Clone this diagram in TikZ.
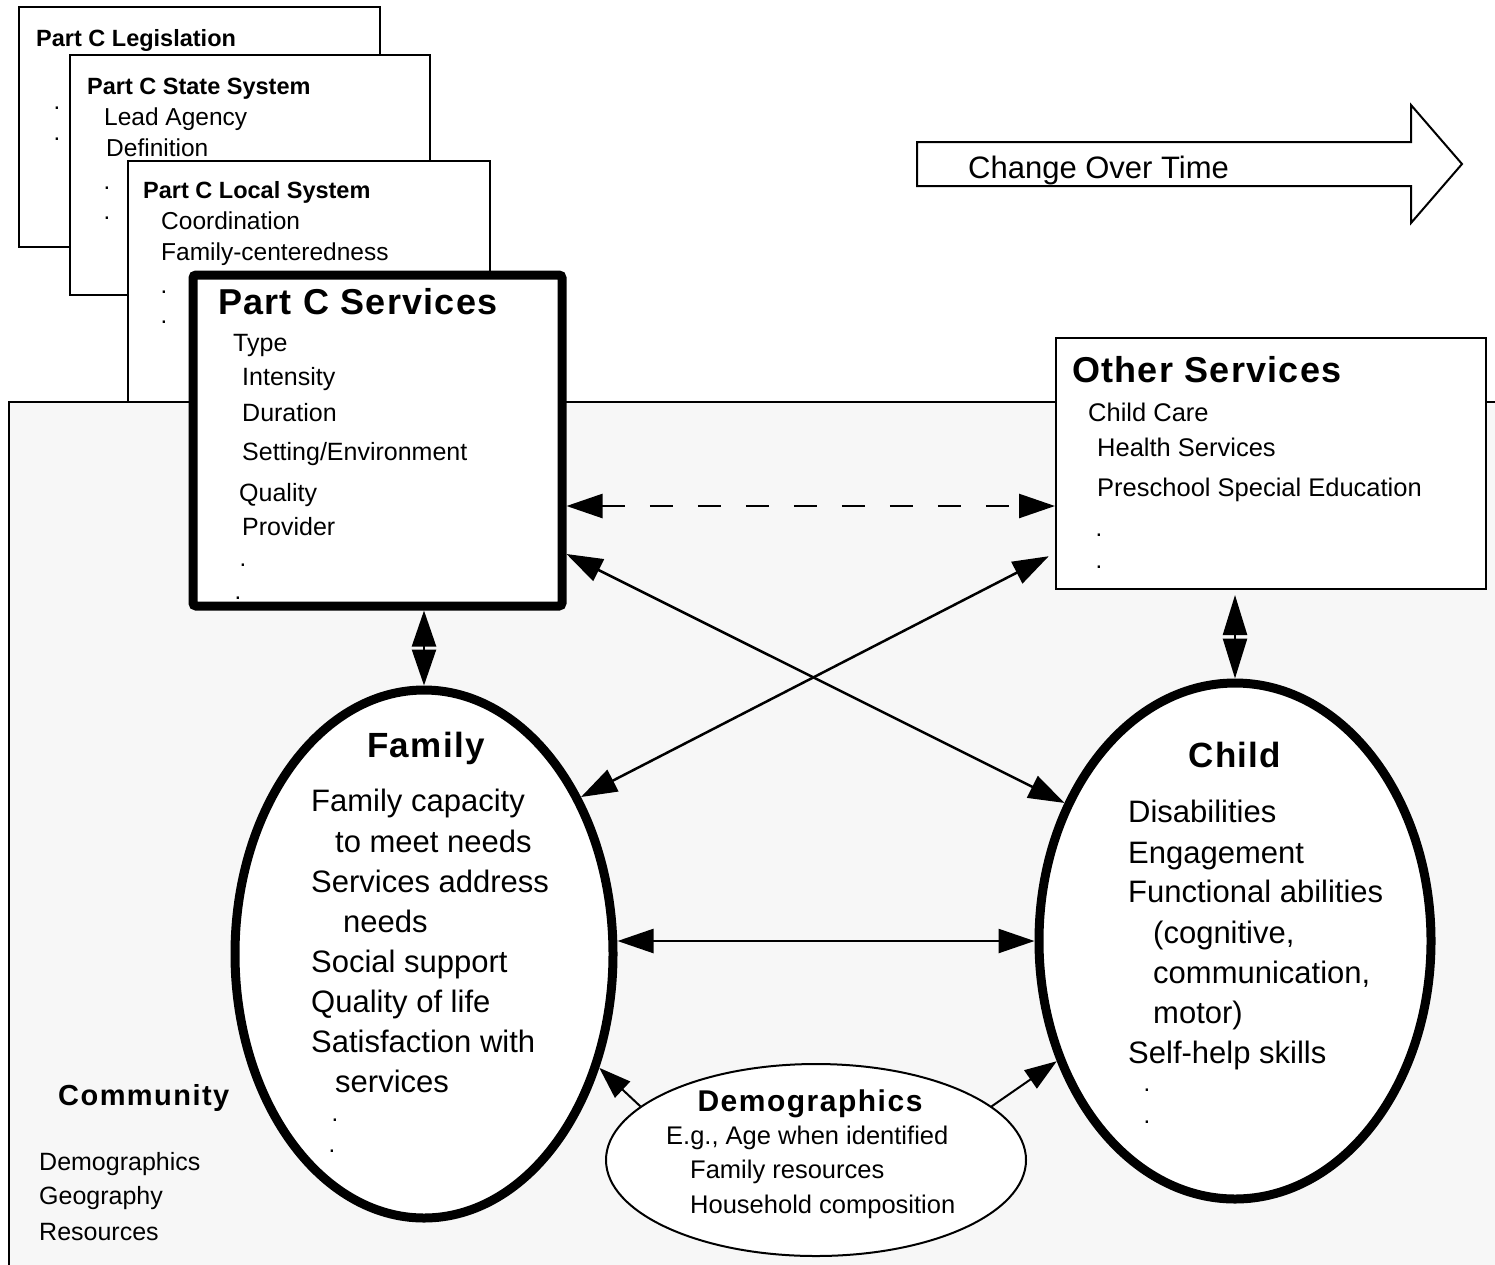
\documentclass[tikz,border=0pt]{standalone}
\usepackage{fontspec}
\setmainfont{Liberation Sans}
\usetikzlibrary{arrows.meta,shapes.geometric}

\newcommand{\txtsize}[1]{\fontsize{#1pt}{#1pt}\selectfont}
\definecolor{commfill}{RGB}{247,247,247}

\tikzset{
  sheet/.style={draw, line width=2pt, fill=white, inner sep=0pt},
  heavy/.style={draw, line width=9pt, fill=white, inner sep=0pt},
  item/.style={anchor=base west, inner sep=0pt},
  dotmark/.style={anchor=base, inner sep=0pt, font=\txtsize{24}},
  bigtitle/.style={inner sep=0pt, font=\bfseries\txtsize{36}\addfontfeatures{LetterSpace=3.5}},
  bigtip/.style={>={Triangle[length=36pt,width=24pt]}},
  link/.style={<->, bigtip, line width=2.5pt},
}

\begin{document}
\begin{tikzpicture}[x=1pt,y=-1pt]
\useasboundingbox (0,0) rectangle (1495,1264);
\fill[white] (0,0) rectangle (1495,1264);

% the stack of Part C sheets
\node[sheet, minimum width=361pt, minimum height=240pt] (leg) at (199.5,127) {};
\node[item, font=\bfseries\txtsize{23.5}] (leg-t) at (36,46.4) {Part C Legislation};
\node[dotmark] (leg-d1) at (57,109.5) {.};
\node[dotmark] (leg-d2) at (57,140.5) {.};

\node[sheet, minimum width=360pt, minimum height=240pt] (state) at (250,175) {};
\node[item, font=\bfseries\txtsize{23.5}] (state-t) at (87,94.4) {Part C State System};
\node[item, font=\txtsize{24.5}] (state-1) at (104,125.6) {Lead Agency};
\node[item, font=\txtsize{24.5}] (state-2) at (106,156.6) {Definition};
\node[dotmark] (state-d1) at (107,189.5) {.};
\node[dotmark] (state-d2) at (107,219.5) {.};

\node[sheet, minimum width=362pt, minimum height=241pt] (local) at (309,281.5) {};
\node[item, font=\bfseries\txtsize{23.5}] (local-t) at (143,198.4) {Part C Local System};
\node[item, font=\txtsize{24.5}] (local-1) at (161,229.6) {Coordination};
\node[item, font=\txtsize{24.5}] (local-2) at (161,260.6) {Family-centeredness};
\node[dotmark] (local-d1) at (164,293.5) {.};
\node[dotmark] (local-d2) at (164,323.5) {.};

% the community around everything
\fill[commfill] (9,402) rectangle (1500,1270);
\draw[line width=2pt] (1500,402) -- (9,402) -- (9,1270);
\node[item, font=\bfseries\txtsize{29}\addfontfeatures{LetterSpace=5}] (comm-t) at (58,1105.4) {Community};
\node[item, font=\txtsize{25}] (comm-1) at (39,1170.6) {Demographics};
\node[item, font=\txtsize{25}] (comm-2) at (39,1204.6) {Geography};
\node[item, font=\txtsize{25}] (comm-3) at (39,1240.6) {Resources};

% Part C services
\node[heavy, rounded corners=3pt, minimum width=369pt, minimum height=331pt] (svc) at (377.5,440.5) {};
\node[item, bigtitle] (svc-t) at (218,314.2) {Part C Services};
\node[item, font=\txtsize{25}] (svc-1) at (233,351.8) {Type};
\node[item, font=\txtsize{25}] (svc-2) at (242,385.8) {Intensity};
\node[item, font=\txtsize{25}] (svc-3) at (242,421.8) {Duration};
\node[item, font=\txtsize{25}] (svc-4) at (242,460.8) {Setting/Environment};
\node[item, font=\txtsize{25}] (svc-5) at (239,501.8) {Quality};
\node[item, font=\txtsize{25}] (svc-6) at (242,535.8) {Provider};
\node[dotmark] (svc-d1) at (243,566.5) {.};
\node[dotmark] (svc-d2) at (238,599.5) {.};

% other services
\node[sheet, minimum width=430pt, minimum height=251pt] (other) at (1271,463.5) {};
\node[item, bigtitle] (other-t) at (1072,382.2) {Other Services};
\node[item, font=\txtsize{25.5}] (other-1) at (1088,421) {Child Care};
\node[item, font=\txtsize{25.5}] (other-2) at (1097,456) {Health Services};
\node[item, font=\txtsize{25.5}] (other-3) at (1097,496) {Preschool Special Education};
\node[dotmark] (other-d1) at (1099,536.5) {.};
\node[dotmark] (other-d2) at (1099,568.5) {.};

% change over time
\draw[line width=2pt, fill=white] (917,142) -- (1411,142) -- (1411,105) -- (1462,164)
  -- (1411,223) -- (1411,186) -- (917,186) -- cycle;
\node[item, font=\txtsize{31}] (change) at (968,178.5) {Change Over Time};

% family and child
\node[heavy, ellipse, minimum width=378pt, minimum height=528pt] (family) at (424,954) {};
\node[anchor=base, inner sep=0pt, font=\bfseries\txtsize{35}\addfontfeatures{LetterSpace=3.7}] (family-t) at (426,757.5) {Family};
\node[item, font=\txtsize{31}] (family-1) at (311,811.1) {Family capacity};
\node[item, font=\txtsize{31}] (family-2) at (335,852.1) {to meet needs};
\node[item, font=\txtsize{31}] (family-3) at (311,892.1) {Services address};
\node[item, font=\txtsize{31}] (family-4) at (343,932.1) {needs};
\node[item, font=\txtsize{31}] (family-5) at (311,972.1) {Social support};
\node[item, font=\txtsize{31}] (family-6) at (311,1012.1) {Quality of life};
\node[item, font=\txtsize{31}] (family-7) at (311,1052.1) {Satisfaction with};
\node[item, font=\txtsize{31}] (family-8) at (335,1092.1) {services};
\node[dotmark] (family-d1) at (335,1121.5) {.};
\node[dotmark] (family-d2) at (332,1152.5) {.};

\node[heavy, ellipse, minimum width=392pt, minimum height=516pt] (child) at (1235,941) {};
\node[anchor=base, inner sep=0pt, font=\bfseries\txtsize{35}\addfontfeatures{LetterSpace=3.7}] (child-t) at (1235,767.5) {Child};
\node[item, font=\txtsize{31}] (child-1) at (1128,822.1) {Disabilities};
\node[item, font=\txtsize{31}] (child-2) at (1128,863.1) {Engagement};
\node[item, font=\txtsize{31}] (child-3) at (1128,902.1) {Functional abilities};
\node[item, font=\txtsize{31}] (child-4) at (1153,943.1) {(cognitive,};
\node[item, font=\txtsize{31}] (child-5) at (1153,983.1) {communication,};
\node[item, font=\txtsize{31}] (child-6) at (1153,1023.1) {motor)};
\node[item, font=\txtsize{31}] (child-7) at (1128,1063.1) {Self-help skills};
\node[dotmark] (child-d1) at (1147,1091.5) {.};
\node[dotmark] (child-d2) at (1147,1123.5) {.};

% demographics
\node[sheet, ellipse, minimum width=420pt, minimum height=192pt] (demo) at (816,1160) {};
\node[anchor=base, inner sep=0pt, font=\bfseries\txtsize{30}\addfontfeatures{LetterSpace=5}] (demo-t) at (810,1111.7) {Demographics};
\node[item, font=\txtsize{25.5}] (demo-1) at (666,1144) {E.g., Age when identified};
\node[item, font=\txtsize{25.5}] (demo-2) at (690,1178) {Family resources};
\node[item, font=\txtsize{25.5}] (demo-3) at (690,1213) {Household composition};

% links between the parts
\draw[link, dashed, dash pattern=on 23pt off 25pt] ([yshift=-65.5pt]svc.east) -- ([yshift=-42.5pt]other.west);
\draw[link] ([yshift=-113.5pt]svc.east) -- (child.141);
\draw[link, shorten <=7pt] ([yshift=-89.5pt]other.west) -- (family.45);
\draw[link] (svc.south -| family.north) -- (family.north);
\draw[link, >={Triangle[length=40pt,width=24pt]}, shorten <=5pt] (other.south -| child.north) -- (child.north);
\draw[link] (family.east |- child.west) -- (child.west);

% demographics feeding family and child
\draw[->, line width=2pt, >={Triangle[length=32pt,width=22pt]}] (demo.163) -- (family.-33);
\draw[->, line width=2pt, >={Triangle[length=32pt,width=22pt]}] (demo.17) -- (child.214);

\end{tikzpicture}
\end{document}
